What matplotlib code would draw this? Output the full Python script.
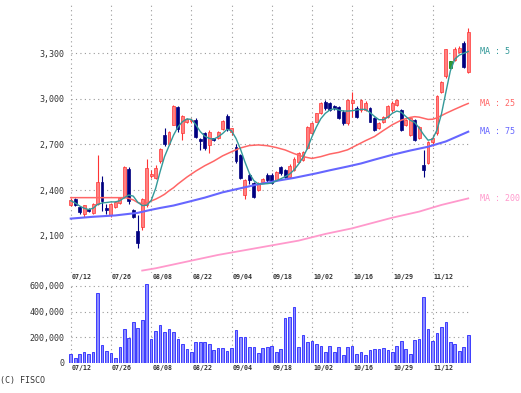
import numpy as np
import matplotlib
matplotlib.use('Agg')
import matplotlib.pyplot as plt

###################################################################################################
# Data (one bar per trading day, 90 bars)

dates = ['07/12', '07/26', '08/08', '08/22', '09/04', '09/18', '10/02', '10/16', '10/29', '11/12']
date_pos = [0, 9, 18, 27, 36, 45, 54, 63, 72, 81]

opens = [2300, 2340, 2290, 2245, 2275, 2252, 2310, 2455, 2285, 2235,
         2290, 2312, 2355, 2540, 2270, 2130, 2155, 2300, 2492, 2482,
         2590, 2765, 2705, 2830, 2945, 2775, 2848, 2852, 2862, 2738,
         2775, 2697, 2740, 2740, 2800, 2885, 2784, 2686, 2631, 2368,
         2499, 2445, 2400, 2455, 2499, 2499, 2466, 2554, 2532, 2488,
         2532, 2587, 2600, 2675, 2773, 2850, 2905, 2982, 2971, 2950,
         2949, 2916, 2839, 2975, 2938, 2927, 2927, 2938, 2872, 2806,
         2850, 2883, 2927, 2960, 2927, 2828, 2762, 2861, 2741, 2565,
         2576, 2718, 2773, 3047, 3151, 3230, 3256, 3311, 3370, 3179]
highs = [2345, 2345, 2298, 2302, 2280, 2315, 2630, 2490, 2310, 2315,
         2330, 2355, 2556, 2550, 2275, 2235, 2345, 2607, 2530, 2563,
         2680, 2810, 2790, 2962, 2950, 2895, 2875, 2872, 2872, 2745,
         2785, 2795, 2745, 2790, 2862, 2900, 2808, 2700, 2640, 2470,
         2510, 2455, 2450, 2480, 2510, 2515, 2525, 2560, 2540, 2570,
         2615, 2650, 2660, 2820, 2850, 2910, 2980, 2990, 2980, 2960,
         2955, 2925, 2998, 3043, 2950, 3000, 2985, 2945, 2880, 2845,
         2890, 2960, 2985, 3000, 2935, 2870, 2875, 2870, 2820, 2664,
         2725, 2760, 3025, 3120, 3330, 3250, 3340, 3345, 3378, 3465]
lows = [2295, 2295, 2245, 2220, 2255, 2245, 2300, 2260, 2240, 2225,
        2280, 2305, 2345, 2310, 2215, 2016, 2140, 2290, 2480, 2475,
        2580, 2690, 2695, 2825, 2780, 2730, 2840, 2840, 2740, 2665,
        2665, 2642, 2720, 2735, 2795, 2790, 2760, 2580, 2470, 2341,
        2440, 2345, 2395, 2450, 2455, 2440, 2460, 2500, 2480, 2480,
        2525, 2580, 2590, 2670, 2765, 2845, 2900, 2930, 2920, 2930,
        2865, 2830, 2825, 2880, 2875, 2915, 2920, 2845, 2790, 2800,
        2840, 2875, 2915, 2950, 2790, 2820, 2755, 2720, 2735, 2488,
        2570, 2690, 2765, 3040, 3140, 3205, 3250, 3300, 3205, 3170]
closes = [2335, 2300, 2255, 2300, 2262, 2310, 2455, 2330, 2268, 2310,
          2320, 2345, 2552, 2330, 2222, 2050, 2340, 2548, 2508, 2548,
          2668, 2700, 2780, 2955, 2800, 2890, 2870, 2862, 2752, 2720,
          2675, 2784, 2728, 2784, 2857, 2800, 2806, 2590, 2477, 2466,
          2466, 2357, 2445, 2475, 2466, 2444, 2517, 2510, 2488, 2561,
          2604, 2642, 2650, 2817, 2839, 2905, 2971, 2938, 2927, 2940,
          2872, 2839, 2993, 2990, 2883, 2993, 2971, 2850, 2795, 2839,
          2883, 2955, 2971, 2993, 2795, 2861, 2872, 2730, 2817, 2532,
          2719, 2740, 3019, 3113, 3326, 3230, 3326, 3333, 3212, 3442]

volume = [70000, 42000, 68000, 88000, 73000, 88000, 548000, 143000, 94000, 75000,
          36000, 127000, 262000, 197000, 322000, 275000, 335000, 618000, 187000, 247000,
          296000, 239000, 262000, 239000, 184000, 151000, 109000, 88000, 161000, 161000,
          161000, 151000, 101000, 119000, 114000, 96000, 114000, 257000, 205000, 205000,
          127000, 127000, 80000, 114000, 127000, 132000, 83000, 109000, 348000, 361000,
          434000, 122000, 221000, 166000, 171000, 151000, 135000, 88000, 132000, 88000,
          127000, 60000, 122000, 132000, 73000, 88000, 62000, 101000, 106000, 106000,
          119000, 101000, 88000, 132000, 169000, 109000, 73000, 177000, 184000, 517000,
          262000, 171000, 231000, 278000, 317000, 161000, 145000, 96000, 127000, 221000]

# moving averages
ma5 = [2330, 2315, 2295, 2280, 2272, 2280, 2305, 2315, 2318, 2322,
       2322, 2330, 2350, 2367, 2360, 2320, 2298, 2300, 2330, 2410,
       2520, 2620, 2690, 2760, 2815, 2850, 2868, 2865, 2830, 2785,
       2755, 2740, 2735, 2750, 2772, 2800, 2790, 2740, 2670, 2585,
       2510, 2462, 2440, 2440, 2442, 2446, 2460, 2474, 2488, 2505,
       2532, 2570, 2615, 2675, 2750, 2815, 2870, 2905, 2927, 2935,
       2927, 2920, 2920, 2922, 2927, 2931, 2931, 2910, 2885, 2863,
       2863, 2880, 2905, 2920, 2912, 2885, 2860, 2845, 2810, 2765,
       2728, 2735, 2795, 2900, 3045, 3185, 3262, 3288, 3300, 3312]
ma25_x = [0, 6, 12, 13, 14, 15, 16, 17, 18, 19, 20, 21, 22, 23, 24, 26, 28, 30, 32, 34, 36, 38, 40,
          42, 44, 46, 48, 50, 52, 54, 56, 58, 60, 62, 64, 66, 68, 70, 72, 74, 76, 77, 78, 80,
          81, 82, 84, 86, 88, 89]
ma25 = [2350, 2350, 2350, 2345, 2335, 2318, 2310, 2315, 2328, 2340, 2355, 2372, 2395, 2415, 2440,
        2485, 2525, 2560, 2590, 2625, 2652, 2677, 2693, 2697, 2692, 2680, 2664, 2640, 2620,
        2608, 2620, 2637, 2648, 2665, 2695, 2725, 2752, 2792, 2830, 2860, 2878, 2883, 2880,
        2865, 2866, 2875, 2905, 2932, 2958, 2970]
ma75_x = [0, 5, 10, 15, 18, 20, 23, 26, 30, 34, 37, 42, 47, 50, 55, 58, 62, 65, 68, 72, 76,
          80, 84, 89]
ma75 = [2212, 2224, 2233, 2250, 2270, 2282, 2298, 2320, 2350, 2385, 2405, 2438, 2465, 2480,
        2510, 2530, 2555, 2575, 2600, 2632, 2660, 2685, 2720, 2784]
ma200_x = [16, 19, 26, 33, 42, 51, 57, 63, 68, 72, 78, 83, 89]
ma200 = [1870, 1885, 1929, 1973, 2020, 2067, 2111, 2148, 2187, 2218, 2258, 2302, 2345]

price_ticks = [2100, 2400, 2700, 3000, 3300]
vol_ticks = [0, 200000, 400000, 600000]

###################################################################################################
# Figure layout

W, H = 521, 393
fig = plt.figure(figsize=(W / 100, H / 100), dpi=100)
fig.patch.set_facecolor('white')

left = 68.5 / W
width = (472.7 - 68.5) / W
ax = fig.add_axes([left, 1 - 273 / H, width, 268 / H])
axv = fig.add_axes([left, 1 - 363 / H, width, 80 / H])

mono = 'DejaVu Sans Mono'
grid_kw = dict(color='#999999', lw=0.8, linestyle=(0, (1, 3)), zorder=0)
n = len(closes)
x = np.arange(n)

for a in (ax, axv):
    for s in a.spines.values():
        s.set_visible(False)
    a.set_xlim(-0.5, 90)
    a.set_xticks([])
    a.tick_params(axis='y', length=0, pad=3, labelsize=6, labelcolor='#333333')
    for lab in a.get_yticklabels():
        lab.set_family(mono)

###################################################################################################
# Price panel

ax.set_ylim(1854, 3618)
ax.hlines(price_ticks, 0, 89.5, **grid_kw)
ax.vlines(date_pos, 1854, 3618, **grid_kw)

o = np.array(opens); c = np.array(closes); hi = np.array(highs); lo = np.array(lows)
up = c > o
down = c < o
flat = c == o

ax.vlines(x[up], lo[up], hi[up], color='#ff3333', lw=0.8, zorder=2)
ax.vlines(x[down], lo[down], hi[down], color='#000080', lw=0.8, zorder=2)
ax.vlines(x[flat], lo[flat], hi[flat], color='#007700', lw=0.8, zorder=2)

body_lo = np.minimum(o, c)
body_h = np.maximum(np.abs(c - o), 6)
ax.bar(x[up], body_h[up], bottom=body_lo[up], width=0.65, color='#ff8080',
       edgecolor='#ff3333', lw=0.5, zorder=3)
ax.bar(x[down], body_h[down], bottom=body_lo[down], width=0.65, color='#000080',
       edgecolor='#000080', lw=0.5, zorder=3)
ax.bar(x[flat], hi[flat] - lo[flat], bottom=lo[flat], width=0.65, color='#339933',
       edgecolor='#007700', lw=0.5, zorder=3)

# moving averages
ax.plot(ma200_x, ma200, color='#ff99cc', lw=1.3, zorder=4)
ax.plot(ma75_x, ma75, color='#6666ff', lw=1.5, zorder=4)
ax.plot(ma25_x, ma25, color='#ff6666', lw=1.1, zorder=4)
ax.plot(x, ma5, color='#339999', lw=1.0, zorder=5)

ax.set_yticks(price_ticks)
ax.set_yticklabels(['{:,}'.format(v) for v in price_ticks], family=mono)

# labels at the right end of each average
for name, last, col in [('MA : 5', ma5[-1], '#339999'), ('MA : 25', ma25[-1], '#ff6666'),
                        ('MA : 75', ma75[-1], '#6666ff'), ('MA : 200', ma200[-1], '#ff99cc')]:
    ax.text(91.6, last, name, color=col, fontsize=6, family=mono, ha='left', va='center',
            clip_on=False)

for d, p in zip(dates, date_pos):
    ax.text(p + 0.25, -0.014, d, transform=ax.get_xaxis_transform(), fontsize=4.8,
            family=mono, fontweight='bold', color='#333333', ha='left', va='center')

###################################################################################################
# Volume panel

axv.set_ylim(0, 623000)
axv.hlines(vol_ticks, 0, 89.5, **grid_kw)
axv.vlines(date_pos, 0, 623000, **grid_kw)
axv.bar(x, volume, width=0.6, color='#8c8cff', edgecolor='#3c3cff', lw=0.7, zorder=3)
axv.set_yticks(vol_ticks)
axv.set_yticklabels(['{:,}'.format(v) for v in vol_ticks], family=mono)

for d, p in zip(dates, date_pos):
    axv.text(p + 0.25, -0.066, d, transform=axv.get_xaxis_transform(), fontsize=4.8,
             family=mono, fontweight='bold', color='#333333', ha='left', va='center')

fig.text(0.0, 1 - 380.5 / H, '(C) FISCO', fontsize=6, family=mono, color='#333333',
         ha='left', va='center')

fig.savefig('out.png', dpi=100)
